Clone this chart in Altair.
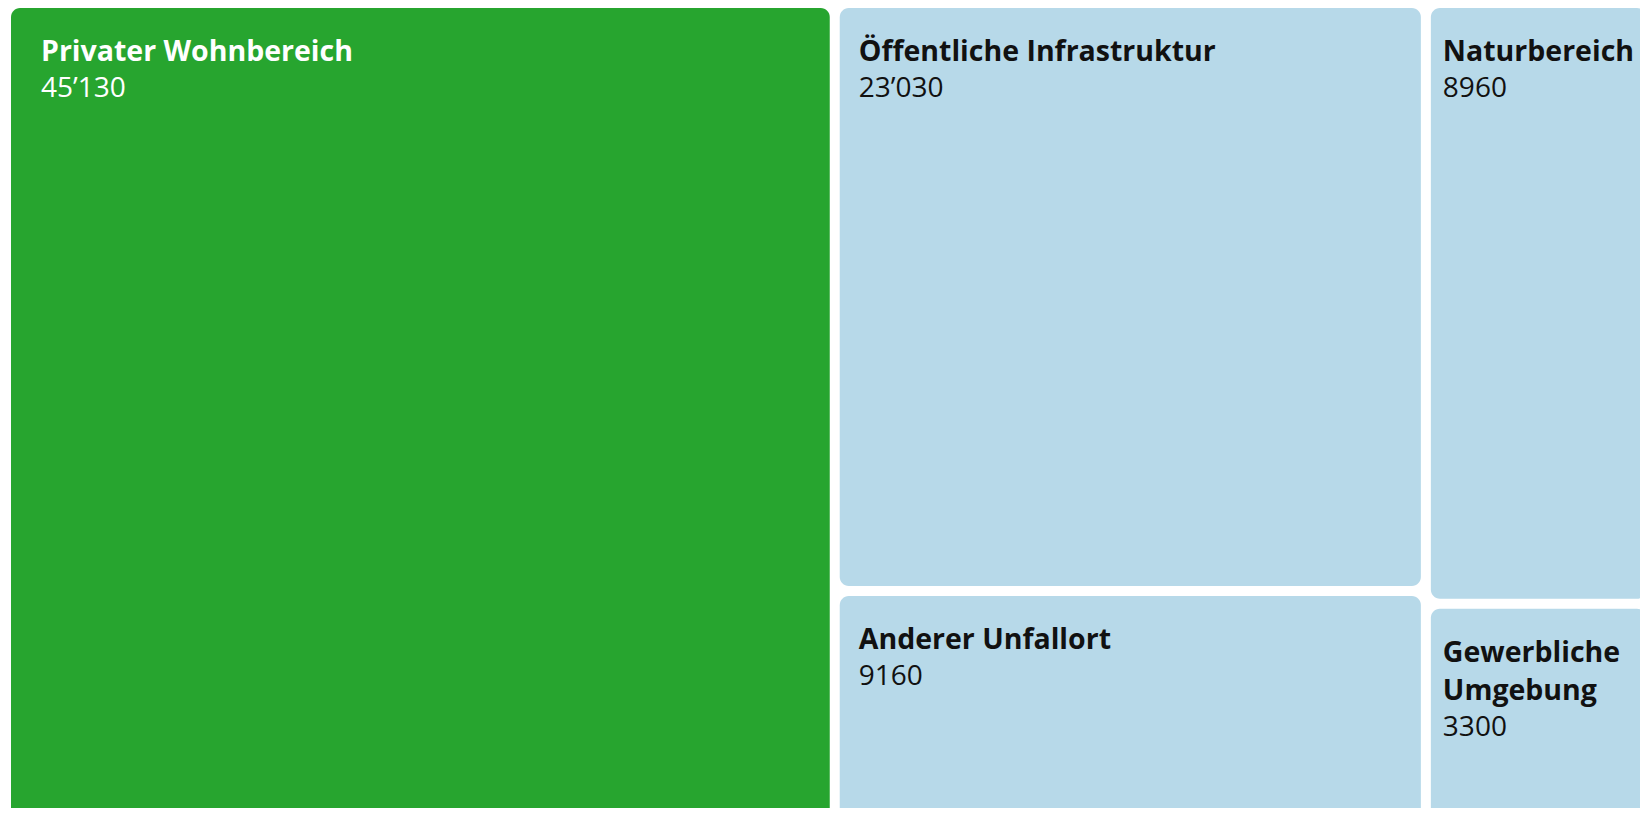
import altair as alt
import pandas as pd

# ---- data ----
categories = [
    "Privater Wohnbereich",
    "Öffentliche Infrastruktur",
    "Anderer Unfallort",
    "Naturbereich",
    "Gewerbliche\nUmgebung",
]
values = [45130, 23030, 9160, 8960, 3300]
highlighted = ["Privater Wohnbereich"]

# ---- layout (slice-and-dice treemap: columns of the sorted items) ----
W, H = 1632, 800                      # svg size
X0, Y0, TW, TH = -2, -5, 1645, 822    # treemap area (clipped by svg at right/bottom)
GAP = 10
column_sizes = [1, 2, 2]
text_pad = [30, 19, 12]
TITLE_OFF = 53
TITLE_LINE_H = 38
NUM_GAP = 36


def fmt(v):
    if v >= 10000:
        return f"{v // 1000}\u2019{v % 1000:03d}"
    return str(v)


total = sum(values)
tiles, titles_rows, num_rows = [], [], []
i = 0
x = X0
for ci, n in enumerate(column_sizes):
    idx = list(range(i, i + n))
    i += n
    colsum = sum(values[k] for k in idx)
    cw = TW * colsum / total
    y = Y0
    for k in idx:
        ch = TH * values[k] / colsum
        x0, x1 = x + GAP / 2, x + cw - GAP / 2
        y0, y1 = y + GAP / 2, y + ch - GAP / 2
        kind = "hl" if categories[k] in highlighted else "base"
        tiles.append(dict(cat=categories[k], kind=kind, x0=x0, x1=x1, y0=y0, y1=y1))
        lines = categories[k].split("\n")
        tx = x0 + text_pad[ci]
        for j, line in enumerate(lines):
            titles_rows.append(dict(txt=line, kind=kind, tx=tx, ty=y0 + TITLE_OFF + j * TITLE_LINE_H))
        num_rows.append(dict(txt=fmt(values[k]), kind=kind, tx=tx,
                             ty=y0 + TITLE_OFF + (len(lines) - 1) * TITLE_LINE_H + NUM_GAP))
        y += ch
    x += cw

xs = alt.Scale(domain=[0, W], nice=False, zero=False)
ys = alt.Scale(domain=[0, H], nice=False, zero=False, reverse=True)
kinds = ["hl", "base"]

rects = alt.Chart(pd.DataFrame(tiles)).mark_rect(cornerRadius=9, clip=True).encode(
    x=alt.X("x0:Q", scale=xs, axis=None),
    x2="x1:Q",
    y=alt.Y("y0:Q", scale=ys, axis=None),
    y2="y1:Q",
    fill=alt.Fill("kind:N", scale=alt.Scale(domain=kinds, range=["#27a52f", "#b7d9e9"]), legend=None),
)

titles = alt.Chart(pd.DataFrame(titles_rows)).mark_text(
    align="left", baseline="alphabetic", font="Open Sans", fontWeight="bold", fontSize=28.5,
).encode(
    x=alt.X("tx:Q", scale=xs, axis=None),
    y=alt.Y("ty:Q", scale=ys, axis=None),
    text="txt:N",
    color=alt.Color("kind:N", scale=alt.Scale(domain=kinds, range=["#ffffff", "#111111"]), legend=None),
)

nums = alt.Chart(pd.DataFrame(num_rows)).mark_text(
    align="left", baseline="alphabetic", font="Open Sans", fontWeight="normal", fontSize=28,
).encode(
    x=alt.X("tx:Q", scale=xs, axis=None),
    y=alt.Y("ty:Q", scale=ys, axis=None),
    text="txt:N",
    color=alt.Color("kind:N", scale=alt.Scale(domain=kinds, range=["#ffffff", "#1c1c1c"]), legend=None),
)

chart = alt.layer(rects, titles, nums).properties(
    width=W, height=H, padding=0,
    autosize=alt.AutoSizeParams(type="none"),
).configure_view(stroke=None)

chart.save("out.html", embed_options={"renderer": "svg", "actions": False})
